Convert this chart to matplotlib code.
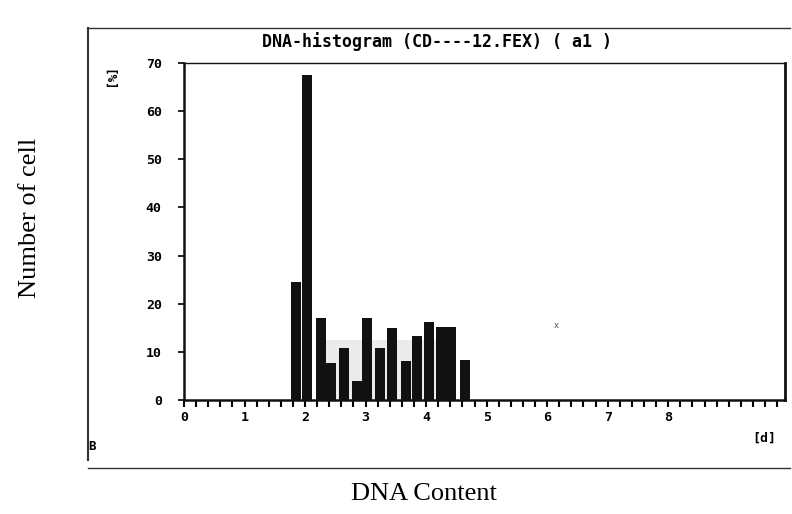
import matplotlib.pyplot as plt
from matplotlib.lines import Line2D
import numpy as np

# DNA histogram values
dna_pos = [1.85, 2.03, 2.26, 2.43, 2.64, 2.86, 3.02, 3.24, 3.44, 3.67, 3.85, 4.05, 4.25, 4.41, 4.64]
cells = [24.5, 67.5, 17, 7.7, 10.8, 4, 17, 10.8, 15, 8, 13.3, 16.2, 15.2, 15.2, 8.3]
y_ticks = [0, 10, 20, 30, 40, 50, 60, 70]
x_ticks = [0, 1, 2, 3, 4, 5, 6, 7, 8]

W, H = 792, 514
fig = plt.figure(figsize=(W / 100, H / 100), dpi=100)

def fx(px):
    return px / W

def fy(py):
    return 1 - py / H

ax = fig.add_axes([fx(184), fy(400), fx(785) - fx(184), fy(63) - fy(400)])

mono = dict(family='DejaVu Sans Mono', weight='bold')

# faint grey haze behind the bars in the scan
ax.fill_between([2.35, 4.5], 0, 12.5, color='#ebebeb', lw=0, zorder=1)
ax.bar(dna_pos, cells, width=0.165, color='#111111', zorder=2)

ax.set_xlim(0, 9.93)
ax.set_ylim(0, 70)
ax.set_yticks(y_ticks)
ax.set_yticklabels([str(v) for v in y_ticks], fontsize=9.5, **mono)
ax.set_xticks(x_ticks)
ax.set_xticklabels([str(v) for v in x_ticks], fontsize=9.5, **mono)
ax.set_xticks(np.arange(0, 9.9, 0.2), minor=True)
ax.tick_params(axis='x', which='both', direction='out', length=5, width=1.5, pad=3)
ax.tick_params(axis='y', direction='out', length=4, width=1.2, pad=12)
for s in ['left', 'bottom']:
    ax.spines[s].set_linewidth(1.8)
ax.spines['top'].set_linewidth(1.0)
ax.spines['right'].set_linewidth(2.0)
for s in ax.spines.values():
    s.set_color('#111111')

# outer frame of the scanned figure
for xs, ys, lw in [([88, 790], [28, 28], 1.0), ([88, 88], [28, 460], 1.5), ([88, 790], [468, 468], 1.0)]:
    fig.add_artist(Line2D([fx(x) for x in xs], [fy(y) for y in ys], color='#333333', lw=lw))

fig.text(fx(437), fy(42), 'DNA-histogram (CD----12.FEX) ( a1 )', ha='center', va='center', fontsize=12, **mono)
fig.text(fx(108), fy(80), '[%]', rotation=270, ha='center', va='center', fontsize=9, **mono)
fig.text(fx(764), fy(438), '[d]', ha='center', va='center', fontsize=9.5, **mono)
fig.text(fx(92), fy(446), 'B', ha='center', va='center', fontsize=9, **mono)
fig.text(fx(556), fy(325), 'x', ha='center', va='center', fontsize=6, color='#555555')

fig.text(fx(30), fy(218), 'Number of cell', rotation=90, ha='center', va='center',
         fontsize=19, family='Liberation Serif')
fig.text(fx(424), fy(494), 'DNA Content', ha='center', va='center',
         fontsize=19, family='Liberation Serif')

fig.savefig('out.png', dpi=100)
